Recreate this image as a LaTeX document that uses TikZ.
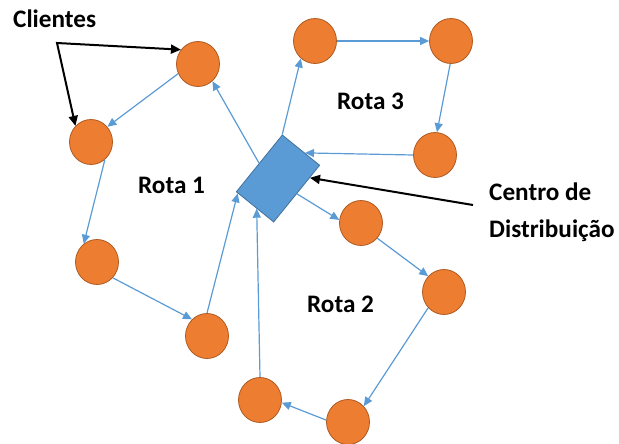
\documentclass[tikz,border=0pt]{standalone}
\usepackage{fontspec}
\setmainfont{Carlito}
\usetikzlibrary{shapes.geometric,arrows.meta,calc}
\definecolor{orangefill}{HTML}{ED7D31}
\definecolor{orangeline}{HTML}{AE5A21}
\definecolor{bluefill}{HTML}{5B9BD5}
\definecolor{blueline}{HTML}{41719C}
\definecolor{routeblue}{HTML}{5B9BD5}

\begin{document}
\begin{tikzpicture}[x=1pt,y=1pt,
  client/.style={ellipse, draw=orangeline, fill=orangefill, line width=0.8pt,
    minimum width=43pt, minimum height=45pt, inner sep=0pt},
  depotbox/.style={rectangle, draw=blueline, fill=bluefill, line width=0.8pt,
    minimum width=48pt, minimum height=73pt, rotate=-39, inner sep=0pt},
  route/.style={draw=routeblue, line width=1.2pt, -{Triangle[length=9pt,width=8pt]}},
  callout/.style={draw=black, line width=2pt, line join=miter},
  calloutTip/.style={-{Triangle[length=10pt,width=9pt]}},
  lbl/.style={font=\fontsize{25.2}{30}\selectfont\bfseries, inner sep=0pt, anchor=base west}]

\useasboundingbox (0,0) rectangle (619,-444);

% distribution centre
\node[depotbox] (depot) at (278,-178.5) {};

% customers
\node[client] (A) at (198,-64) {};
\node[client] (B) at (91,-142) {};
\node[client] (C) at (97,-262) {};
\node[client] (D) at (207,-336) {};
\node[client] (E) at (260,-400) {};
\node[client] (F) at (348,-422) {};
\node[client] (G) at (444,-292) {};
\node[client] (H) at (361,-223) {};
\node[client] (I) at (315,-41) {};
\node[client] (J) at (451,-41) {};
\node[client] (K) at (435,-155) {};

% route 1
\draw[route] (depot.west) -- (A.310);
\draw[route] (A.206) -- (B.43);
\draw[route] (B.308) -- (C.126);
\draw[route] (C.315) -- (D.132);
\draw[route] (D.north) -- ($(depot.south west)!0.05!(depot.south east)$);

% route 2
\draw[route] (depot.east) -- (H.172);
\draw[route] (H.317) -- (G.135);
\draw[route] (G.225) -- (F.45);
\draw[route] (F.175) -- (E.353);
\draw[route] (E.north) -- ($(depot.south west)!0.55!(depot.south east)$);

% route 3
\draw[route] (depot.north west) -- (I.231);
\draw[route] (I.east) -- (J.west);
\draw[route] (J.268) -- (K.85);
\draw[route] (K.west) -- ($(depot.north west)!0.6!(depot.north east)$);

% labels
\node[lbl] (clientes) at (13,-28) {Clientes};
\node[lbl] (rota1) at (138,-193) {Rota 1};
\node[lbl] (rota2) at (307,-312) {Rota 2};
\node[lbl] (rota3) at (337,-110) {Rota 3};
\node[lbl] (centro) at (489,-200) {Centro de};
\node[lbl] (distr) at (489,-237) {Distribuição};

% callouts
\coordinate (fork) at (57,-43);
\draw[callout, {Triangle[length=10pt,width=9pt]}-{Triangle[length=10pt,width=9pt]}]
  (A.140) -- (fork) -- (B.134);
\coordinate (cdtail) at (473,-205);
\draw[callout, calloutTip] (cdtail) -- ($(depot.north east)!0.22!(depot.south east)$);

\end{tikzpicture}
\end{document}
